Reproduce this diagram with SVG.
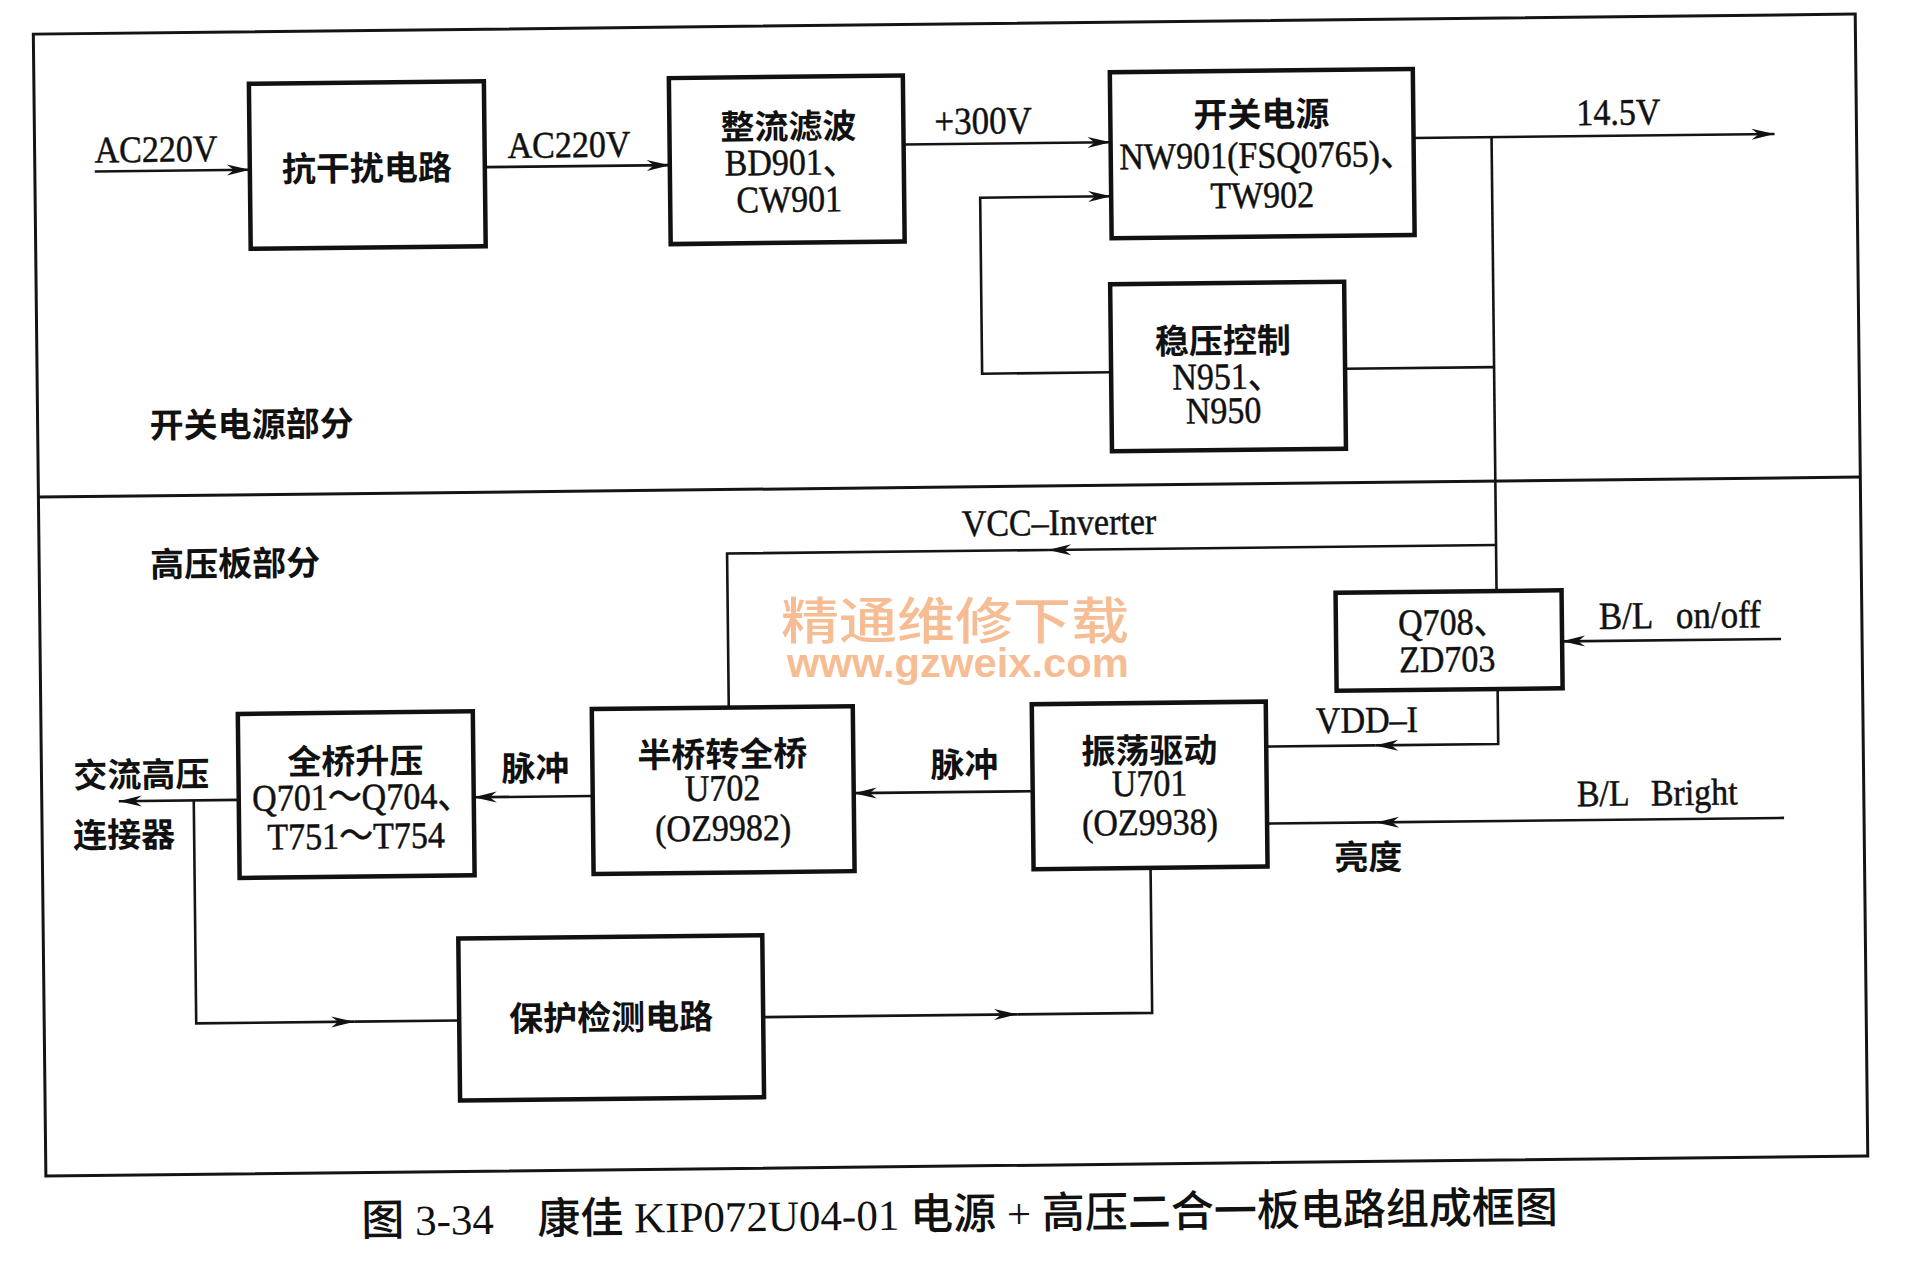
<svg xmlns="http://www.w3.org/2000/svg" width="1914" height="1272" viewBox="0 0 1914 1272">
<defs>
<style>
.frame{fill:none;stroke:#141414;stroke-width:3}
.box{fill:none;stroke:#111;stroke-width:4.5}
.ln{fill:none;stroke:#141414;stroke-width:2.6}
.cn{font-family:"Noto Sans CJK SC",sans-serif;font-weight:700;font-size:34px;fill:#111}
.lt{font-family:"Liberation Serif","Noto Sans CJK SC",serif;font-size:34px;fill:#111;stroke:#111;stroke-width:0.45}
.mid{text-anchor:middle}
.cap{font-family:"Liberation Serif","Noto Sans CJK SC",serif;font-weight:500;font-size:43px;fill:#111}
.wm{font-family:"Noto Sans CJK SC",sans-serif;font-weight:500;font-size:50px;fill:#f6bd94}
.wm2{font-family:"Liberation Sans",sans-serif;font-weight:700;font-size:40px;fill:#f6bd94}
</style>
<marker id="arr" markerUnits="userSpaceOnUse" viewBox="-24 -7 26 14" markerWidth="26" markerHeight="14" refX="0" refY="0" orient="auto">
<path d="M0,0 L-23,-5.5 L-16,0 L-23,5.5 Z" fill="#111"/>
</marker>
</defs>
<rect width="1914" height="1272" fill="#fff"/>
<g transform="rotate(-0.63 957 636)">
<g id="frame">
<rect class="frame" x="40" y="24" width="1822" height="1142"/>
<line class="frame" x1="40" y1="487" x2="1862" y2="487"/>
</g>
<g id="connectors">
<path class="ln" d="M100,162 H255" marker-end="url(#arr)"/>
<path class="ln" d="M490,162 H675" marker-end="url(#arr)"/>
<path class="ln" d="M909,144 H1116" marker-end="url(#arr)"/>
<path class="ln" d="M1419,143 H1780" marker-end="url(#arr)"/>
<path class="ln" d="M1497,143 V597"/>
<path class="ln" d="M1348,373 H1497"/>
<path class="ln" d="M1114,374 H985 V198 H1116" marker-end="url(#arr)"/>
<path class="ln" d="M1497,551 H1049" marker-end="url(#arr)"/>
<path class="ln" d="M1049,551 H728 V705"/>
<path class="ln" d="M1781,648 H1562" marker-end="url(#arr)"/>
<path class="ln" d="M1497,695 V750 H1374" marker-end="url(#arr)"/>
<path class="ln" d="M1374,750 H1265"/>
<path class="ln" d="M1782,827 H1374" marker-end="url(#arr)"/>
<path class="ln" d="M1374,827 H1265"/>
<path class="ln" d="M1031,792 H852" marker-end="url(#arr)"/>
<path class="ln" d="M591,792 H472" marker-end="url(#arr)"/>
<path class="ln" d="M237,792 H117" marker-end="url(#arr)"/>
<path class="ln" d="M192,792 V1015 H350" marker-end="url(#arr)"/>
<path class="ln" d="M350,1015 H455"/>
<path class="ln" d="M759,1015 H1013" marker-end="url(#arr)"/>
<path class="ln" d="M1013,1015 H1148 V870"/>
</g>
<g id="n-kgr">
<rect class="box" x="255" y="76" width="235" height="165"/>
<text class="cn mid" x="372" y="174">抗干扰电路</text>
</g>
<g id="n-zllb">
<rect class="box" x="675" y="75" width="234" height="166"/>
<text class="cn mid" x="794" y="137">整流滤波</text>
<text class="lt mid" transform="translate(796,173) scale(1,1.1)">BD901、</text>
<text class="lt mid" transform="translate(794,210) scale(1,1.1)">CW901</text>
</g>
<g id="n-kgdy">
<rect class="box" x="1116" y="74" width="303" height="166"/>
<text class="cn mid" x="1267" y="130">开关电源</text>
<text class="lt mid" transform="translate(1272,171) scale(1,1.1)">NW901(FSQ0765)、</text>
<text class="lt mid" transform="translate(1267,211) scale(1,1.1)">TW902</text>
</g>
<g id="n-wykz">
<rect class="box" x="1114" y="286" width="234" height="167"/>
<text class="cn mid" x="1226" y="356">稳压控制</text>
<text class="lt mid" transform="translate(1230,392) scale(1,1.1)">N951、</text>
<text class="lt mid" transform="translate(1226,426) scale(1,1.1)">N950</text>
</g>
<g id="n-q708">
<rect class="box" x="1336" y="597" width="226" height="98"/>
<text class="lt mid" transform="translate(1453,640) scale(1,1.1)">Q708、</text>
<text class="lt mid" transform="translate(1447,677) scale(1,1.1)">ZD703</text>
</g>
<g id="n-zdqd">
<rect class="box" x="1031" y="705" width="234" height="165"/>
<text class="cn mid" x="1148" y="765">振荡驱动</text>
<text class="lt mid" transform="translate(1148,798) scale(1,1.1)">U701</text>
<text class="lt mid" transform="translate(1148,837) scale(1,1.1)">(OZ9938)</text>
</g>
<g id="n-bqzqq">
<rect class="box" x="591" y="705" width="261" height="165"/>
<text class="cn mid" x="721" y="764">半桥转全桥</text>
<text class="lt mid" transform="translate(721,798) scale(1,1.1)">U702</text>
<text class="lt mid" transform="translate(721,838) scale(1,1.1)">(OZ9982)</text>
</g>
<g id="n-qqsy">
<rect class="box" x="237" y="706" width="235" height="164"/>
<text class="cn mid" x="354" y="767">全桥升压</text>
<text class="lt mid" transform="translate(360,803) scale(1,1.1)">Q701～Q704、</text>
<text class="lt mid" transform="translate(354,842) scale(1,1.1)">T751～T754</text>
</g>
<g id="n-bhjc">
<rect class="box" x="455" y="933" width="304" height="162"/>
<text class="cn mid" x="607" y="1026">保护检测电路</text>
</g>
<g id="labels">
<text class="lt" transform="translate(100,153) scale(1,1.1)">AC220V</text>
<text class="lt" transform="translate(513,153) scale(1,1.1)">AC220V</text>
<text class="lt" transform="translate(940,134) scale(1,1.1)" style="font-size:35px">+300V</text>
<text class="lt" transform="translate(1582,132) scale(1,1.1)">14.5V</text>
<text class="cn" x="152" y="429">开关电源部分</text>
<text class="cn" x="151" y="568">高压板部分</text>
<text class="lt" transform="translate(963,536) scale(1,1.1)">VCC–Inverter</text>
<text class="lt" transform="translate(1599,636) scale(1,1.1)" style="font-size:35px">B/L<tspan x="77">on/off</tspan></text>
<text class="lt" transform="translate(1315,737) scale(1,1.1)">VDD–I</text>
<text class="lt" transform="translate(1575,813) scale(1,1.1)">B/L<tspan x="74">Bright</tspan></text>
<text class="cn" x="1332" y="874">亮度</text>
<text class="cn" x="929" y="777">脉冲</text>
<text class="cn" x="500" y="776">脉冲</text>
<text class="cn" x="72" y="778">交流高压</text>
<text class="cn" x="71" y="838">连接器</text>
</g>
<g id="caption">
<text class="cap" x="355" y="1229">图 3-34</text>
<text class="cap" x="531" y="1229">康佳 KIP072U04-01 电源 + 高压二合一板电路组成框图</text>
</g>
</g>
<g id="watermark">
<text class="wm" x="781" y="639" textLength="348" lengthAdjust="spacingAndGlyphs">精通维修下载</text>
<text class="wm2" x="787" y="677" textLength="342" lengthAdjust="spacingAndGlyphs">www.gzweix.com</text>
</g>
</svg>
